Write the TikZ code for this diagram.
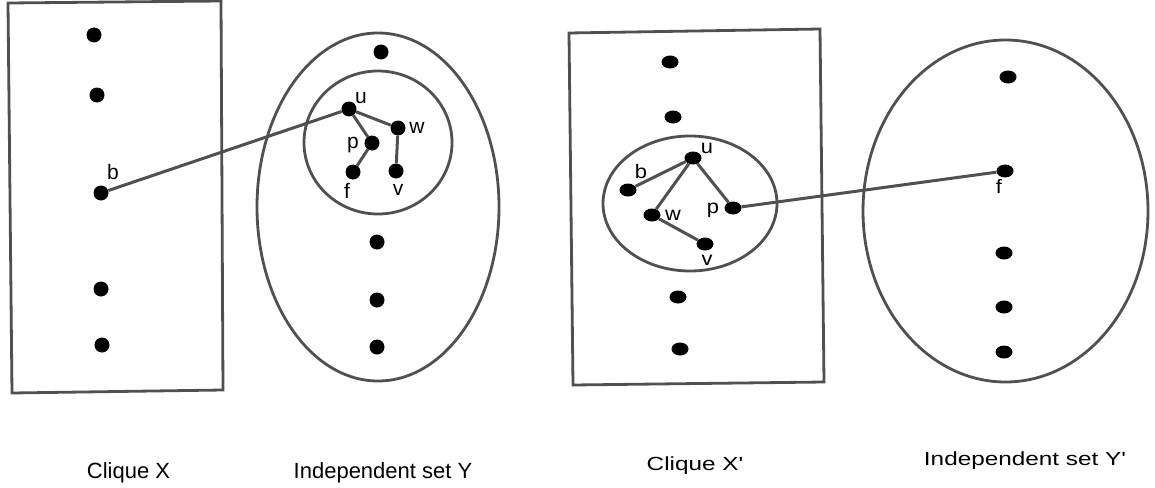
\documentclass[tikz,border=0pt]{standalone}
\usepackage{fontspec}
\setmainfont{Liberation Sans}[Ligatures=ResetAll]
\usetikzlibrary{shapes.geometric}
\definecolor{linegray}{HTML}{505050}
\newcommand{\strq}{\XeTeXglyph\XeTeXglyphindex "quotesingle"\relax}
\tikzset{
  outline/.style={draw=linegray, line width=2.8pt},
  edge/.style={draw=linegray, line width=3pt},
  dotL/.style={circle, fill=black, inner sep=0pt, minimum size=15pt},
  dotR/.style={ellipse, fill=black, inner sep=0pt, minimum width=17pt, minimum height=13pt},
  lblL/.style={anchor=base, inner sep=0pt, font=\fontsize{21}{21}\selectfont},
  lblR/.style={anchor=base, inner sep=0pt, xscale=1.12, font=\fontsize{19.5}{19.5}\selectfont},
  capL/.style={anchor=base, inner sep=0pt, font=\fontsize{22}{22}\selectfont},
  capR/.style={anchor=base, inner sep=0pt, xscale=1.28, font=\fontsize{19}{19}\selectfont}
}
\begin{document}
\begin{tikzpicture}[x=1pt, y=-1pt]
\useasboundingbox (0,0) rectangle (1155,487);
% left clique X
\draw[outline] (8,3) -- (221,1) -- (223,390) -- (12,393) -- cycle;
% left independent set Y
\draw[outline] (378,207) ellipse [x radius=121pt, y radius=174pt];
\draw[outline] (378,142.5) ellipse [x radius=74pt, y radius=71.5pt];
% right clique X'
\draw[outline] (569,33) -- (820,29) -- (824,382) -- (573,385) -- cycle;
\draw[outline] (690,203.5) ellipse [x radius=87pt, y radius=67.5pt];
% right independent set Y'
\draw[outline] (1005.5,211) ellipse [x radius=142.5pt, y radius=171pt];

% left dots
\node[dotL] (x1) at (94,35) {};
\node[dotL] (x2) at (97,95) {};
\node[dotL] (b)  at (101,193) {};
\node[dotL] (x4) at (101,289) {};
\node[dotL] (x5) at (102,345) {};
\node[dotL] (y1) at (381,52) {};
\node[dotL] (u)  at (349,109) {};
\node[dotL] (w)  at (398,128) {};
\node[dotL] (p)  at (372,143) {};
\node[dotL] (f)  at (353,172) {};
\node[dotL] (v)  at (396,171) {};
\node[dotL] (y2) at (377,242) {};
\node[dotL] (y3) at (377,300) {};
\node[dotL] (y4) at (377,347) {};

% right dots
\node[dotR] (xr1) at (670,62) {};
\node[dotR] (xr2) at (673,117) {};
\node[dotR] (ur)  at (693,158) {};
\node[dotR] (br)  at (628,190) {};
\node[dotR] (wr)  at (652,215) {};
\node[dotR] (pr)  at (733,208) {};
\node[dotR] (vr)  at (705,244) {};
\node[dotR] (xr3) at (678,297) {};
\node[dotR] (xr4) at (680,349) {};
\node[dotR] (yr1) at (1008,77) {};
\node[dotR] (fr)  at (1005,171) {};
\node[dotR] (yr2) at (1004,253) {};
\node[dotR] (yr3) at (1004,307) {};
\node[dotR] (yr4) at (1004,352) {};

% left edges
\draw[edge] (b) -- (u);
\draw[edge] (u) -- (w);
\draw[edge] (u) -- (p);
\draw[edge] (p) -- (f);
\draw[edge] (w) -- (v);
% right edges
\draw[edge] (br) -- (ur);
\draw[edge] (ur) -- (wr);
\draw[edge] (ur) -- (pr);
\draw[edge] (wr) -- (vr);
\draw[edge] (pr) -- (fr);

% left labels
\node[lblL] (lb) at (113,179) {b};
\node[lblL] (lu) at (361,103) {u};
\node[lblL] (lw) at (417,133) {w};
\node[lblL] (lp) at (353,148) {p};
\node[lblL] (lf) at (347,198) {f};
\node[lblL] (lv) at (398,195) {v};
% right labels
\node[lblR] (lur) at (707,153) {u};
\node[lblR] (lbr) at (641,178) {b};
\node[lblR] (lwr) at (673,220) {w};
\node[lblR] (lpr) at (713,213) {p};
\node[lblR] (lvr) at (707,265) {v};
\node[lblR] (lfr) at (999,193) {f};

% captions
\node[capL] (c1) at (128.5,478) {Clique X};
\node[capL] (c2) at (383,478) {Independent set Y};
\node[capR] (c3) at (695,470) {Clique X\strq};
\node[capR] (c4) at (1025,465) {Independent set Y\strq};
\end{tikzpicture}
\end{document}
